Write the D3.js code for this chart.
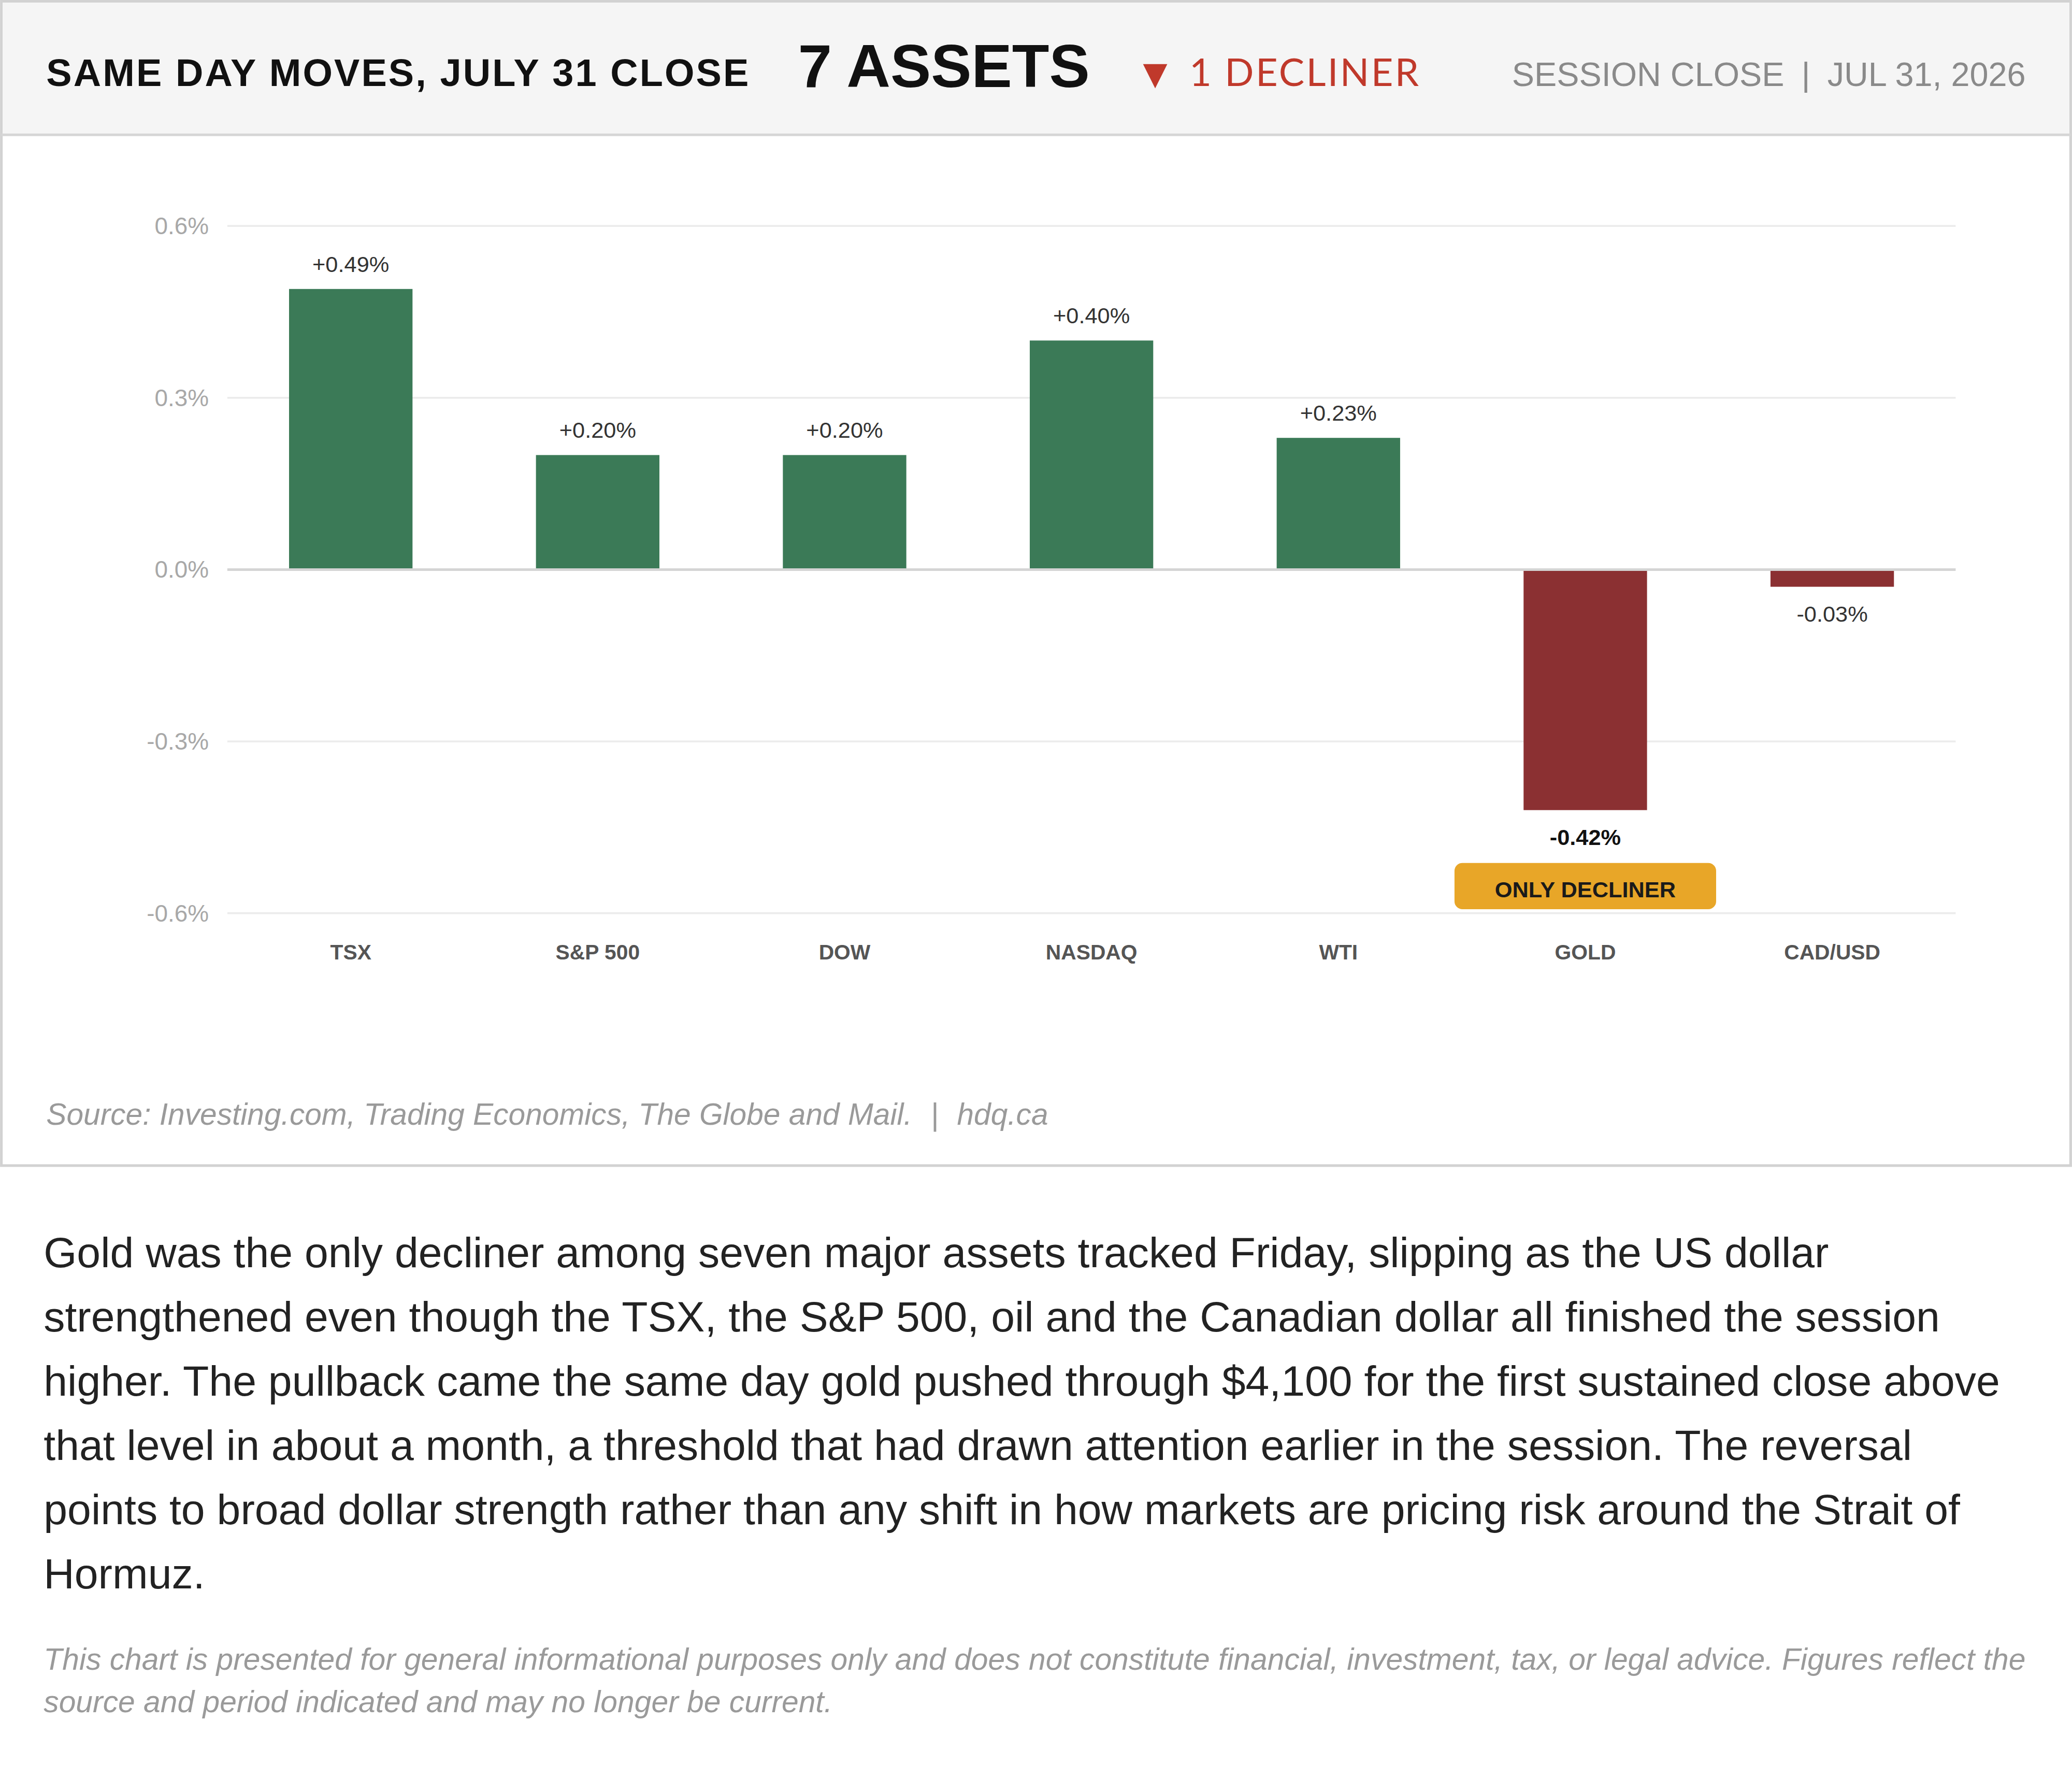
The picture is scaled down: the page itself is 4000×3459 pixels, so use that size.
<!DOCTYPE html>
<html>
<head>
<meta charset="utf-8">
<script src="https://cdn.jsdelivr.net/npm/d3@7"></script>
<style>
  html, body { margin: 0; padding: 0; background: #fff; }
  svg { display: block; font-family: "Liberation Sans", Arial, sans-serif; }
</style>
</head>
<body>
<svg id="chart"></svg>
<script>
// chart values
const assets = ["TSX", "S&P 500", "DOW", "NASDAQ", "WTI", "GOLD", "CAD/USD"];
const moves = [0.49, 0.20, 0.20, 0.40, 0.23, -0.42, -0.03];
const yTicks = [-0.6, -0.3, 0.0, 0.3, 0.6];

const titleText = "SAME DAY MOVES, JULY 31 CLOSE";
const assetsText = "7 ASSETS";
const declinerText = "1 DECLINER";
const sessionText = ["SESSION CLOSE", "|", "JUL 31, 2026"];
const sourceText = ["Source: Investing.com, Trading Economics, The Globe and Mail.", "|", "hdq.ca"];

const bodyLines = [
  "Gold was the only decliner among seven major assets tracked Friday, slipping as the US dollar",
  "strengthened even though the TSX, the S&P 500, oil and the Canadian dollar all finished the session",
  "higher. The pullback came the same day gold pushed through $4,100 for the first sustained close above",
  "that level in about a month, a threshold that had drawn attention earlier in the session. The reversal",
  "points to broad dollar strength rather than any shift in how markets are pricing risk around the Strait of",
  "Hormuz."
];
const disclaimerLines = [
  "This chart is presented for general informational purposes only and does not constitute financial, investment, tax, or legal advice. Figures reflect the",
  "source and period indicated and may no longer be current."
];

const data = assets.map((d, i) => ({ name: d, value: moves[i] }));
const worst = d3.least(data, d => d.value);

// layout is drawn in a 1568 wide space and scaled up to the window
const W = 1568, H = 1356;
const outW = 4000, outH = 3459;

const svg = d3.select("#chart")
  .attr("width", outW)
  .attr("height", outH)
  .attr("viewBox", `0 0 ${W} ${H}`);

// card
const cardH = 882;
svg.append("rect")
  .attr("x", 1).attr("y", 1)
  .attr("width", W - 2).attr("height", cardH - 1)
  .attr("fill", "#fff")
  .attr("stroke", "#d2d2d2")
  .attr("stroke-width", 2);

svg.append("rect")
  .attr("x", 2).attr("y", 2)
  .attr("width", W - 4).attr("height", 100)
  .attr("fill", "#f5f5f5");

svg.append("line")
  .attr("x1", 1).attr("x2", W - 1)
  .attr("y1", 102).attr("y2", 102)
  .attr("stroke", "#d6d6d6")
  .attr("stroke-width", 2);

// header
const headY = 65;
svg.append("text")
  .attr("x", 35).attr("y", headY)
  .attr("font-size", 29)
  .attr("font-weight", "bold")
  .attr("letter-spacing", 1.2)
  .attr("fill", "#111")
  .text(titleText);

svg.append("text")
  .attr("x", 604).attr("y", headY + 1)
  .attr("font-size", 46)
  .attr("font-weight", "bold")
  .attr("fill", "#111")
  .text(assetsText);

svg.append("text")
  .attr("x", 865).attr("y", headY - 1)
  .attr("font-family", "DejaVu Sans")
  .attr("font-size", 24)
  .attr("fill", "#c0392b")
  .text("\u25BC");

svg.append("text")
  .attr("x", 900).attr("y", headY)
  .attr("font-family", "Lato, 'Liberation Sans', sans-serif")
  .attr("font-size", 29)
  .attr("letter-spacing", 1.3)
  .attr("fill", "#c0392b")
  .text(declinerText);

svg.append("text")
  .attr("x", 1533).attr("y", headY)
  .attr("text-anchor", "end")
  .attr("font-size", 25.4)
  .attr("fill", "#8a8a8a")
  .selectAll("tspan")
  .data(sessionText)
  .enter()
  .append("tspan")
  .attr("dx", (d, i) => i === 0 ? 0 : 13)
  .text(d => d);

// chart
const x = d3.scaleBand()
  .domain(assets)
  .range([172, 1480])
  .paddingInner(0.5)
  .paddingOuter(0.25);

const y = d3.scaleLinear()
  .domain([-0.6, 0.6])
  .range([691, 171]);

const grid = svg.append("g");
grid.selectAll("line")
  .data(yTicks.filter(t => t !== 0))
  .enter()
  .append("line")
  .attr("x1", 172).attr("x2", 1480)
  .attr("y1", d => y(d)).attr("y2", d => y(d))
  .attr("stroke", "#ececec")
  .attr("stroke-width", 1.5);

const yAxis = d3.axisLeft(y)
  .tickValues(yTicks)
  .tickSize(0)
  .tickPadding(14)
  .tickFormat(d => d3.format(".1f")(d).replace("\u2212", "-") + "%");

const yG = svg.append("g")
  .attr("transform", "translate(172,0)")
  .call(yAxis);
yG.select(".domain").remove();
yG.selectAll("text")
  .attr("font-family", "Liberation Sans, Arial, sans-serif")
  .attr("font-size", 18)
  .attr("fill", "#a8a8a8");

const green = "#3b7a57";
const red = "#8b3032";

svg.append("g")
  .selectAll("rect")
  .data(data)
  .enter()
  .append("rect")
  .attr("x", d => x(d.name))
  .attr("width", x.bandwidth())
  .attr("y", d => y(Math.max(0, d.value)))
  .attr("height", d => Math.abs(y(d.value) - y(0)))
  .attr("fill", d => d.value >= 0 ? green : red);

svg.append("line")
  .attr("x1", 172).attr("x2", 1480)
  .attr("y1", y(0)).attr("y2", y(0))
  .attr("stroke", "#d4d4d4")
  .attr("stroke-width", 2);

const fmt = d => (d > 0 ? "+" : "") + d3.format(".2f")(d).replace("\u2212", "-") + "%";

svg.append("g")
  .selectAll("text")
  .data(data)
  .enter()
  .append("text")
  .attr("x", d => x(d.name) + x.bandwidth() / 2)
  .attr("y", d => d.value >= 0 ? y(d.value) - 13 : y(d.value) + 26.5)
  .attr("text-anchor", "middle")
  .attr("font-size", 17)
  .attr("font-weight", d => d === worst ? "bold" : "normal")
  .attr("fill", d => d === worst ? "#111" : "#333")
  .text(d => fmt(d.value));

// badge under the only decliner
const bx = x(worst.name) + x.bandwidth() / 2;
svg.append("rect")
  .attr("x", bx - 99).attr("y", 653)
  .attr("width", 198).attr("height", 35)
  .attr("rx", 6)
  .attr("fill", "#e8a628");
svg.append("text")
  .attr("x", bx).attr("y", 679)
  .attr("text-anchor", "middle")
  .attr("font-size", 17)
  .attr("font-weight", "bold")
  .attr("fill", "#1a1a1a")
  .text("ONLY DECLINER");

const xAxis = d3.axisBottom(x).tickSize(0).tickPadding(0);
const xG = svg.append("g")
  .attr("transform", "translate(0,726)")
  .call(xAxis);
xG.select(".domain").remove();
xG.selectAll("text")
  .attr("dy", 0)
  .attr("y", 0)
  .attr("font-family", "Liberation Sans, Arial, sans-serif")
  .attr("font-size", 16)
  .attr("font-weight", "bold")
  .attr("fill", "#555");

// source
svg.append("text")
  .attr("x", 35).attr("y", 851)
  .attr("font-size", 23)
  .attr("font-style", "italic")
  .attr("fill", "#9a9a9a")
  .selectAll("tspan")
  .data(sourceText)
  .enter()
  .append("tspan")
  .attr("dx", (d, i) => i === 0 ? 0 : 14)
  .text(d => d);

// body copy
svg.append("g")
  .selectAll("text")
  .data(bodyLines)
  .enter()
  .append("text")
  .attr("x", 33)
  .attr("y", (d, i) => 959 + i * 48.6)
  .attr("font-size", 32.3)
  .attr("fill", "#222")
  .text(d => d);

svg.append("g")
  .selectAll("text")
  .data(disclaimerLines)
  .enter()
  .append("text")
  .attr("x", 33)
  .attr("y", (d, i) => 1263.5 + i * 32.3)
  .attr("font-size", 23.05)
  .attr("font-style", "italic")
  .attr("fill", "#9a9a9a")
  .text(d => d);
</script>
</body>
</html>
